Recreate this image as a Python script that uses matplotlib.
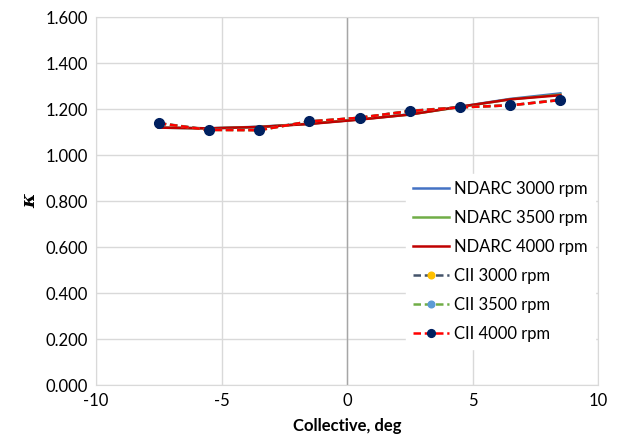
import numpy as np
import matplotlib
matplotlib.use("Agg")
import matplotlib.pyplot as plt

plt.rcParams['font.family'] = ['Lato', 'DejaVu Sans']
plt.rcParams['axes.unicode_minus'] = False

# collective angles, deg
collective = [-7.5, -5.5, -3.5, -1.5, 0.5, 2.5, 4.5, 6.5, 8.5]

# NDARC predictions
ndarc_3000 = [1.119, 1.116, 1.123, 1.136, 1.155, 1.177, 1.210, 1.244, 1.268]
ndarc_3500 = [1.119, 1.116, 1.122, 1.136, 1.155, 1.176, 1.209, 1.242, 1.263]
ndarc_4000 = [1.119, 1.116, 1.122, 1.135, 1.154, 1.176, 1.210, 1.242, 1.260]

# CII results
cii_3000 = [1.139, 1.110, 1.109, 1.146, 1.162, 1.192, 1.208, 1.216, 1.240]
cii_3500 = [1.138, 1.109, 1.108, 1.146, 1.162, 1.191, 1.207, 1.216, 1.239]
cii_4000 = [1.138, 1.109, 1.108, 1.146, 1.162, 1.191, 1.207, 1.216, 1.239]

fig = plt.figure(figsize=(6.21, 4.48), dpi=100)
ax = fig.add_axes([0.1546, 0.1406, 0.8084, 0.8214])

ax.plot(collective, ndarc_3000, color='#4472C4', lw=1.8, label='NDARC 3000 rpm')
ax.plot(collective, ndarc_3500, color='#70AD47', lw=1.8, label='NDARC 3500 rpm')
ax.plot(collective, ndarc_4000, color='#C00000', lw=1.8, label='NDARC 4000 rpm')
ax.plot(collective, cii_3000, color='#44546A', lw=1.8, ls=(0, (3, 1.5)), marker='o', ms=6,
        mfc='#FFC000', mec='#FFC000', label='CII 3000 rpm')
ax.plot(collective, cii_3500, color='#70AD47', lw=1.8, ls=(0, (3, 1.5)), marker='o', ms=6,
        mfc='#5B9BD5', mec='#5B9BD5', label='CII 3500 rpm')
ax.plot(collective, cii_4000, color='#FF0000', lw=1.8, ls=(0, (3, 1.5)), marker='o', ms=7,
        mfc='#002060', mec='#002060', label='CII 4000 rpm')

ax.set_xlim(-10, 10)
ax.set_ylim(0, 1.6)
ax.set_xticks(np.arange(-10, 11, 5))
ax.set_yticks(np.arange(0, 1.61, 0.2))
ax.set_yticklabels(['%.3f' % v for v in np.arange(0, 1.61, 0.2)])
ax.grid(True, color='#D9D9D9', lw=1)
ax.set_axisbelow(True)
ax.axvline(0, color='#A6A6A6', lw=1, zorder=1)
for s in ax.spines.values():
    s.set_color('#D9D9D9')
ax.tick_params(length=0, labelsize=12, pad=6)

ax.set_xlabel('Collective, deg', fontsize=12, fontweight='bold', labelpad=6)
ax.set_ylabel('κ', fontsize=14, fontweight='bold', style='italic',
              rotation=90, labelpad=4, family=['DejaVu Serif'])

leg = ax.legend(loc='lower right', bbox_to_anchor=(1.0, 0.09), frameon=True,
                fontsize=12, handlelength=2.2, handletextpad=0.3,
                labelspacing=0.78, borderaxespad=0.2, fancybox=False,
                markerscale=0.8)
leg.get_frame().set_edgecolor('white')
leg.get_frame().set_facecolor('white')
leg.get_frame().set_alpha(1)

fig.savefig('out.png', dpi=100)
